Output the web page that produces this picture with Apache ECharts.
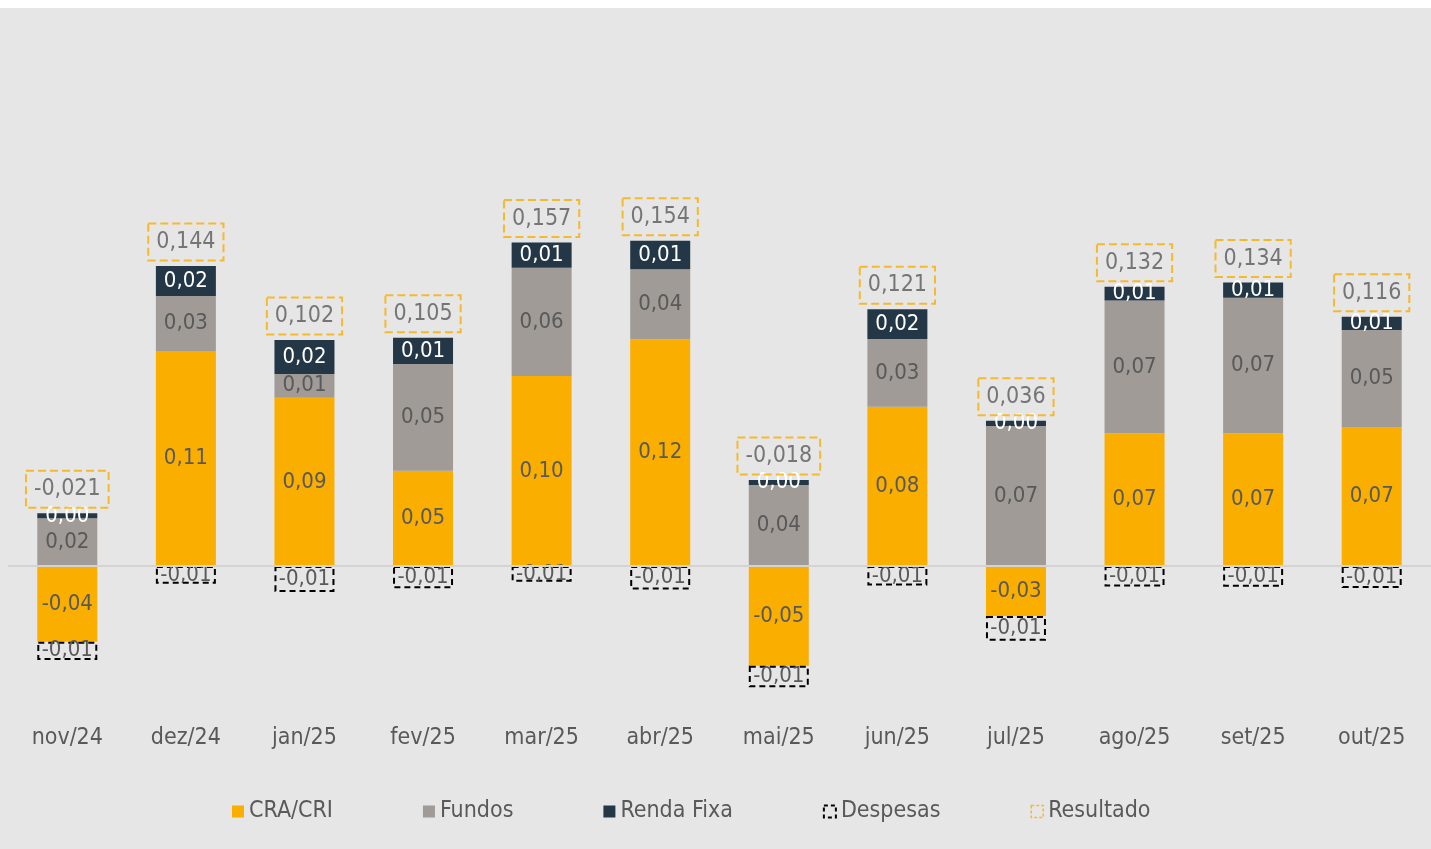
<!DOCTYPE html>
<html>
<head>
<meta charset="utf-8">
<script src="https://cdn.jsdelivr.net/npm/echarts@6/dist/echarts.min.js"></script>
<style>
  html, body { margin: 0; padding: 0; background: #ffffff; }
  #chart { position: absolute; left: 0; top: 8px; width: 1431px; height: 841px; }
</style>
</head>
<body>
<div id="chart"></div>
<script>
// ---- data ----
const categories = ['nov/24','dez/24','jan/25','fev/25','mar/25','abr/25','mai/25','jun/25','jul/25','ago/25','set/25','out/25'];
const craCri    = [-0.0386, 0.1097, 0.0859, 0.0486, 0.0969, 0.1157, -0.0509, 0.0813, -0.0255, 0.0677, 0.0677, 0.0709];
const fundos    = [0.0243, 0.0281, 0.0121, 0.0544, 0.0553, 0.0357, 0.0413, 0.0345, 0.0714, 0.0677, 0.0692, 0.0495];
const rendaFixa = [0.0026, 0.0153, 0.0173, 0.0134, 0.0128, 0.0146, 0.0026, 0.0152, 0.0027, 0.0071, 0.0077, 0.0068];
const despesas  = [-0.0093, -0.0091, -0.0133, -0.0114, -0.0080, -0.0120, -0.0110, -0.0100, -0.0126, -0.0105, -0.0106, -0.0112];
const resultado = [-0.021, 0.144, 0.102, 0.105, 0.157, 0.154, -0.018, 0.121, 0.036, 0.132, 0.134, 0.116];

// ---- helpers ----
const fmt = (v, d) => v.toFixed(d).replace('.', ',');
const FONT = '"DejaVu Sans Condensed", "DejaVu Sans", Verdana, sans-serif';
const TXT = '#595959';
const C_CRA = '#F9AE00', C_FUN = '#A09B96', C_RF = '#233746';

// top of positive stack, used as anchor for the Resultado label
const positiveTop = categories.map((_, i) =>
  [craCri[i], fundos[i], rendaFixa[i], despesas[i]].filter(v => v > 0).reduce((a, b) => a + b, 0));

const chart = echarts.init(document.getElementById('chart'));

const barLabel = (color) => ({
  show: true, position: 'inside', color: color, fontFamily: FONT, fontSize: 22,
  formatter: p => fmt(p.value, 2)
});

chart.setOption({
  backgroundColor: '#e7e6e6',
  animation: false,
  grid: { left: 8, width: 1429, top: 166, height: 529.2, containLabel: false },
  xAxis: {
    type: 'category', data: categories,
    axisLine: { show: false }, axisTick: { show: false },
    axisLabel: { color: TXT, fontFamily: FONT, fontSize: 23, margin: 23 }
  },
  yAxis: {
    type: 'value', min: -0.07, max: 0.2, show: false,
    splitLine: { show: false }
  },
  legend: {
    left: 232, top: 792, padding: 0,
    itemWidth: 12, itemHeight: 12, itemGap: 90,
    textStyle: { color: TXT, fontFamily: FONT, fontSize: 23 },
    data: [
      { name: 'CRA/CRI', icon: 'rect' },
      { name: 'Fundos', icon: 'rect' },
      { name: 'Renda Fixa', icon: 'rect' },
      { name: 'Despesas', icon: 'rect',
        itemStyle: { color: 'transparent', borderColor: '#000', borderWidth: 2, borderType: [4, 3] } },
      { name: 'Resultado', icon: 'rect',
        itemStyle: { color: 'transparent', borderColor: C_CRA, borderWidth: 1.5, borderType: [3, 2] } }
    ]
  },
  series: [
    {
      name: 'CRA/CRI', type: 'bar', stack: 'total', barWidth: 60,
      data: craCri, itemStyle: { color: C_CRA },
      label: barLabel(TXT),
      markLine: {
        silent: true, symbol: 'none', label: { show: false },
        lineStyle: { color: '#d3d3d3', width: 2, type: 'solid' },
        data: [{ yAxis: 0 }]
      }
    },
    {
      name: 'Fundos', type: 'bar', stack: 'total', barWidth: 60,
      data: fundos, itemStyle: { color: C_FUN },
      label: barLabel(TXT)
    },
    {
      name: 'Renda Fixa', type: 'bar', stack: 'total', barWidth: 60,
      data: rendaFixa, itemStyle: { color: C_RF },
      label: barLabel('#ffffff')
    },
    {
      name: 'Despesas', type: 'bar', stack: 'total', barWidth: 60,
      data: despesas,
      itemStyle: { color: 'rgba(0,0,0,0)', borderColor: '#000', borderWidth: 2, borderType: [6, 4] },
      label: barLabel(TXT)
    },
    {
      name: 'Resultado', type: 'scatter', symbolSize: 1,
      itemStyle: { color: 'rgba(0,0,0,0)' },
      data: positiveTop,
      label: {
        show: true, position: 'top', distance: 5,
        color: TXT, fontFamily: FONT, fontSize: 23,
        padding: [7, 8, 7, 8],
        borderColor: C_CRA, borderWidth: 2, borderType: [8, 4],
        formatter: p => fmt(resultado[p.dataIndex], 3)
      },
      z: 5
    }
  ]
});
</script>
</body>
</html>
